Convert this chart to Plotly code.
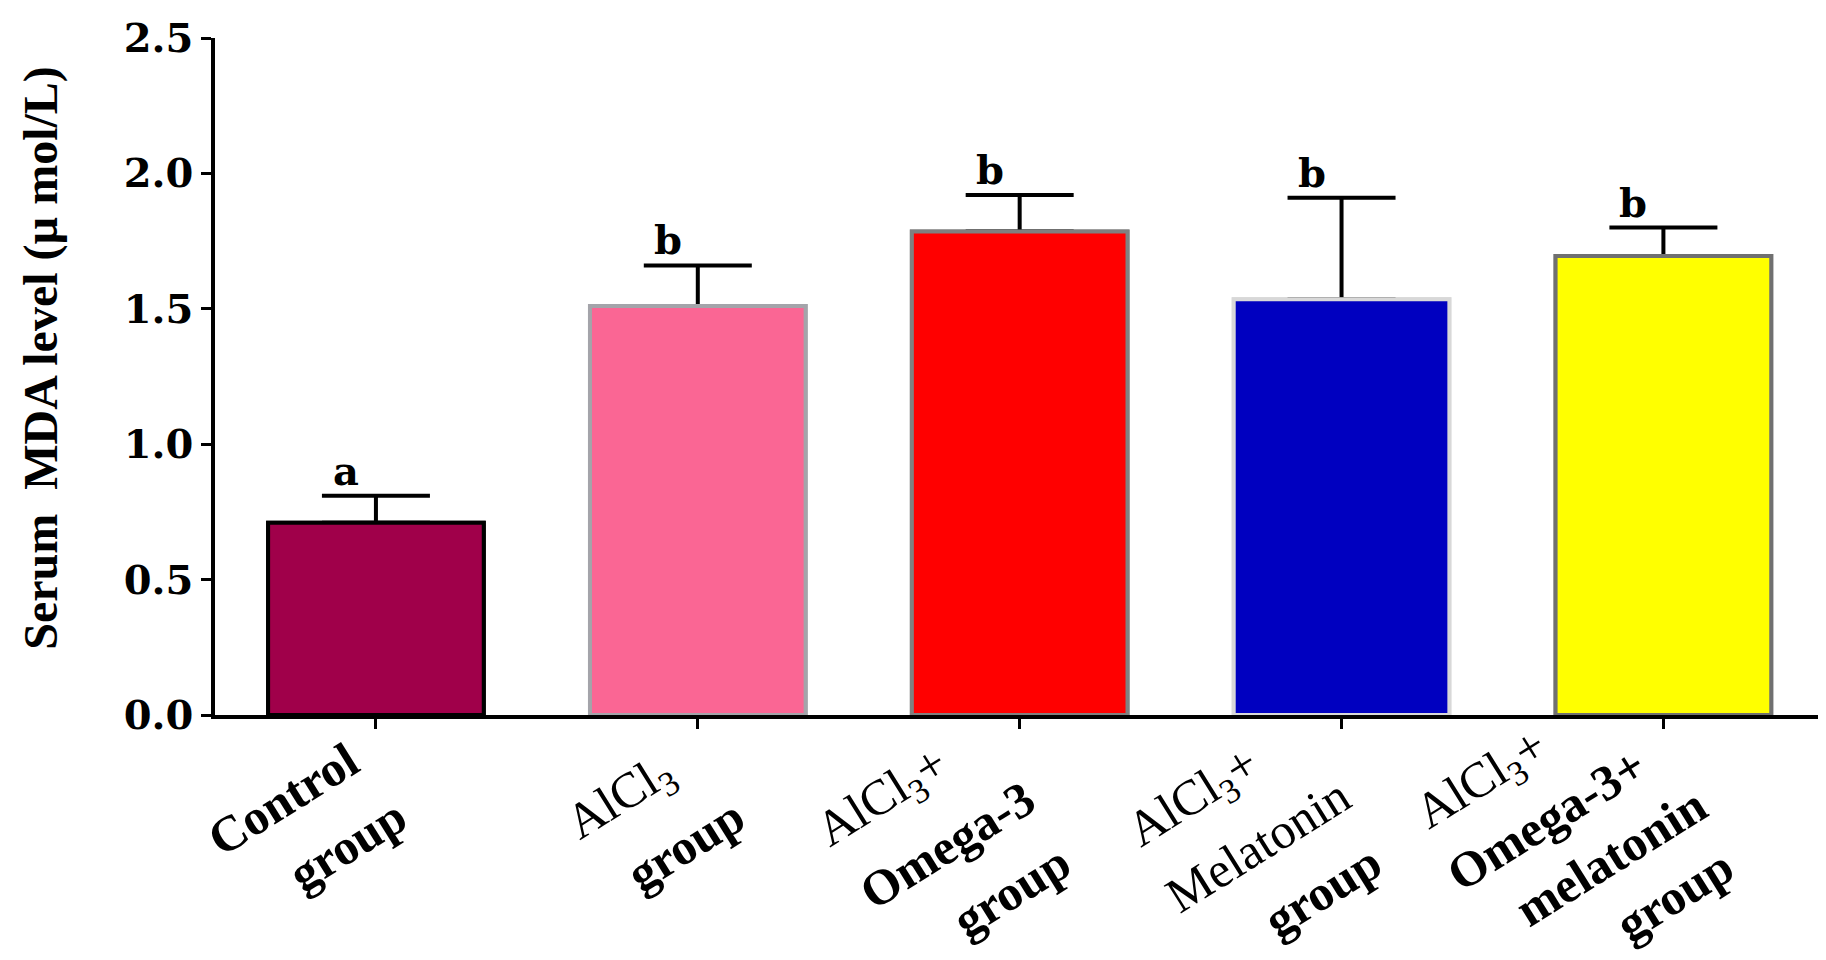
import math
import re
import plotly.graph_objects as go

# ---- data ----
categories = ["Control group", "AlCl3 group", "AlCl3+ Omega-3 group",
              "AlCl3+ Melatonin group", "AlCl3+ Omega-3+ melatonin group"]
label_lines = [
    ["<b>Control</b>", "<b>group</b>"],
    ["AlCl<sub>3</sub>", "<b>group</b>"],
    ["AlCl<sub>3</sub>+", "<b>Omega-3</b>", "<b>group</b>"],
    ["AlCl<sub>3</sub>+", "Melatonin", "<b>group</b>"],
    ["AlCl<sub>3</sub>+", "<b>Omega-3+</b>", "<b>melatonin</b>", "<b>group</b>"],
]
mean_values = [0.71, 1.51, 1.785, 1.535, 1.695]
error_plus = [0.10, 0.15, 0.135, 0.375, 0.105]
sig_letters = ["a", "b", "b", "b", "b"]
y_ticks = [0.0, 0.5, 1.0, 1.5, 2.0, 2.5]

fill_colors = ["#A0004A", "#FA6694", "#FF0000", "#0000C0", "#FFFF00"]
edge_colors = ["#000000", "#A4A4AA", "#808080", "#D8D8D8", "#707070"]

# ---- styling helpers ----
LABEL_FONT = 50
LABEL_ANGLE = 32
STEP_X = 64                       # line-to-line horizontal offset (px)
# approximate Times-bold advance widths (em) used to centre the slanted blocks
_W = {"C": .722, "o": .5, "n": .556, "t": .333, "r": .444, "l": .278, "g": .5,
      "u": .556, "p": .556, "A": .722, "3": .5, "+": .57, "O": .778, "m": .833,
      "e": .444, "a": .5, "-": .333, "M": .944, "i": .278}


def text_width(s):
    plain = re.sub(r"<[^>]+>", "", s)
    return sum(_W.get(ch, .5) for ch in plain) * LABEL_FONT


fig = go.Figure()
# bars carrying the (upper) error bars
fig.add_trace(go.Bar(
    x=categories,
    y=mean_values,
    width=0.67,
    marker=dict(color=fill_colors, line=dict(color=edge_colors, width=4)),
    error_y=dict(type="data", symmetric=False, array=error_plus,
                 arrayminus=[0] * len(error_plus),
                 color="#000000", thickness=4, width=54),
    showlegend=False, hoverinfo="skip",
))
# same bars drawn again on top, hiding the lower cap of the error bars
fig.add_trace(go.Bar(
    x=categories,
    y=mean_values,
    width=0.67,
    marker=dict(color=fill_colors, line=dict(color=edge_colors, width=4)),
    showlegend=False,
))

# significance letters
for cat, m, e, lab in zip(categories, mean_values, error_plus, sig_letters):
    fig.add_annotation(
        x=cat, y=m + e, xref="x", yref="y",
        text="<b>" + lab + "</b>", showarrow=False,
        xanchor="center", yanchor="bottom", xshift=-30, yshift=0,
        font=dict(family="DejaVu Serif", size=40, color="#000000"),
    )

# category labels: centred lines, slanted like the original
cosA = math.cos(math.radians(LABEL_ANGLE))
for cat, lines in zip(categories, label_lines):
    n = len(lines)
    widest = max(text_width(s) for s in lines)
    cx = 10 - widest / 2 * cosA
    if n >= 4:
        first, step_y = 66, 38
    else:
        first, step_y = 84, 46
    for j, s in enumerate(lines):
        k = j - (n - 1) / 2
        fig.add_annotation(
            x=cat, y=0, xref="x", yref="y",
            text=s, showarrow=False, textangle=-LABEL_ANGLE,
            xanchor="center", yanchor="middle", borderpad=0,
            xshift=cx + k * STEP_X, yshift=-(first + j * step_y),
            font=dict(family="Liberation Serif", size=LABEL_FONT, color="#000000"),
        )

# y-axis title
fig.add_annotation(
    x=-0.108, y=0.528, xref="paper", yref="paper",
    text="<b>Serum  MDA level (µ mol/L)</b>", textangle=-90,
    showarrow=False, xanchor="center", yanchor="middle",
    font=dict(family="Liberation Serif", size=48, color="#000000"),
)

fig.update_xaxes(
    range=[-0.5, 4.53],
    tickmode="array", tickvals=categories, showticklabels=False,
    ticks="outside", ticklen=10, tickwidth=3, tickcolor="#000000",
    showline=True, linecolor="#000000", linewidth=3.5,
    showgrid=False, zeroline=False, automargin=False,
)
fig.update_yaxes(
    range=[0, 2.5],
    tickmode="array", tickvals=y_ticks, tickformat=".1f",
    tickfont=dict(family="DejaVu Serif", size=40, color="#000000", weight="bold"),
    ticks="outside", ticklen=10, tickwidth=3, tickcolor="#000000",
    showline=True, linecolor="#000000", linewidth=3.5,
    showgrid=False, zeroline=False, automargin=False,
)

fig.update_layout(
    width=1826, height=960,
    margin=dict(l=207, r=0, t=30, b=253),
    paper_bgcolor="#FFFFFF", plot_bgcolor="#FFFFFF",
    barmode="overlay",
)

fig.write_html("out.html")
